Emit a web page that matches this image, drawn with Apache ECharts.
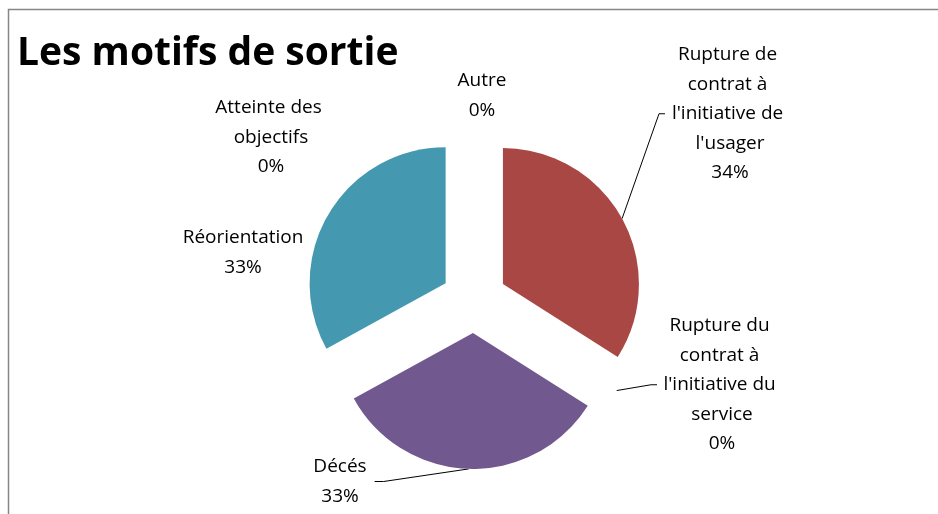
<!DOCTYPE html>
<html>
<head>
<meta charset="utf-8">
<script src="https://cdn.jsdelivr.net/npm/echarts@6/dist/echarts.min.js"></script>
<style>
  html, body { margin: 0; padding: 0; background: #fff; }
  #chart { width: 938px; height: 514px; }
</style>
</head>
<body>
<div id="chart"></div>
<script>
// data (slice order starts at 12 o'clock, clockwise)
const categories = [
  'Autre',
  "Rupture de contrat à l'initiative de l'usager",
  "Rupture du contrat à l'initiative du service",
  'Décés',
  'Réorientation',
  'Atteinte des objectifs'
]
const values = [0, 34, 0, 33, 33, 0]
const colors = ['#4F81BD', '#A94744', '#9BBB59', '#71588F', '#4499B0', '#F79646']

// label placement: centre x, top y, wrap width, leader line or not
const labelPlace = [
  { x: 482, y: 66, wrap: 0, line: false },
  { x: 730, y: 40, wrap: 128, line: true },
  { x: 722, y: 311, wrap: 128, line: true },
  { x: 340, y: 452, wrap: 0, line: true },
  { x: 243, y: 223, wrap: 0, line: false },
  { x: 271, y: 93, wrap: 128, line: false }
]

const CENTER = [474, 300]
const RADIUS = 136
const EXPLODE = 33

const chart = echarts.init(document.getElementById('chart'))

chart.setOption({
  animation: false,
  title: {
    text: 'Les motifs de sortie',
    left: 12,
    top: 29,
    textStyle: {
      fontFamily: 'Open Sans',
      fontWeight: 'bold',
      fontSize: 39,
      color: '#000'
    }
  },
  graphic: [{
    type: 'rect',
    shape: { x: 8.5, y: 9.5, width: 1000, height: 1000 },
    style: { fill: 'none', stroke: '#868686', lineWidth: 1.5 },
    silent: true
  }],
  series: [
    {
      // the exploded slices
      type: 'pie',
      center: CENTER,
      radius: [0, RADIUS],
      startAngle: 90,
      clockwise: true,
      selectedMode: 'multiple',
      selectedOffset: EXPLODE,
      label: { show: false },
      labelLine: { show: false },
      itemStyle: { borderWidth: 0 },
      emphasis: { disabled: true },
      silent: true,
      data: categories.map((name, i) => ({
        name: name,
        value: values[i],
        selected: true,
        itemStyle: { color: colors[i] }
      }))
    },
    {
      // same data, invisible, reaching the outer edge of the exploded slices: carries labels
      type: 'pie',
      center: CENTER,
      radius: [0, RADIUS + EXPLODE],
      startAngle: 90,
      clockwise: true,
      silent: true,
      avoidLabelOverlap: false,
      minShowLabelAngle: 0,
      itemStyle: { color: 'rgba(0,0,0,0)', borderWidth: 0 },
      emphasis: { disabled: true },
      label: {
        show: true,
        position: 'outside',
        fontFamily: 'Open Sans',
        fontSize: 19,
        lineHeight: 29.5,
        color: '#000',
        formatter: p => p.name + '\n' + Math.round(p.percent) + '%'
      },
      labelLine: {
        show: true,
        length: 10,
        length2: 10,
        lineStyle: { color: '#000', width: 1 }
      },
      labelLayout: function (params) {
        const pl = labelPlace[params.dataIndex]
        const res = { x: pl.x, y: pl.y, align: 'center', verticalAlign: 'top' }
        const pts = params.labelLinePoints
        if (pl.line && pts && pts.length) {
          const start = pts[0]
          const r = params.labelRect
          const midY = pl.y + r.height / 2
          if (start[0] < pl.x) {
            const ex = pl.x - r.width / 2 - 1
            res.labelLinePoints = [start, [ex - 6, midY], [ex, midY]]
          } else {
            const ex = pl.x + r.width / 2 + 8
            res.labelLinePoints = [start, [ex + 9, midY], [ex, midY]]
          }
        }
        return res
      },
      data: categories.map((name, i) => ({
        name: name,
        value: values[i],
        label: labelPlace[i].wrap ? { width: labelPlace[i].wrap, overflow: 'break' } : {},
        labelLine: { show: labelPlace[i].line }
      }))
    }
  ]
})
</script>
</body>
</html>
